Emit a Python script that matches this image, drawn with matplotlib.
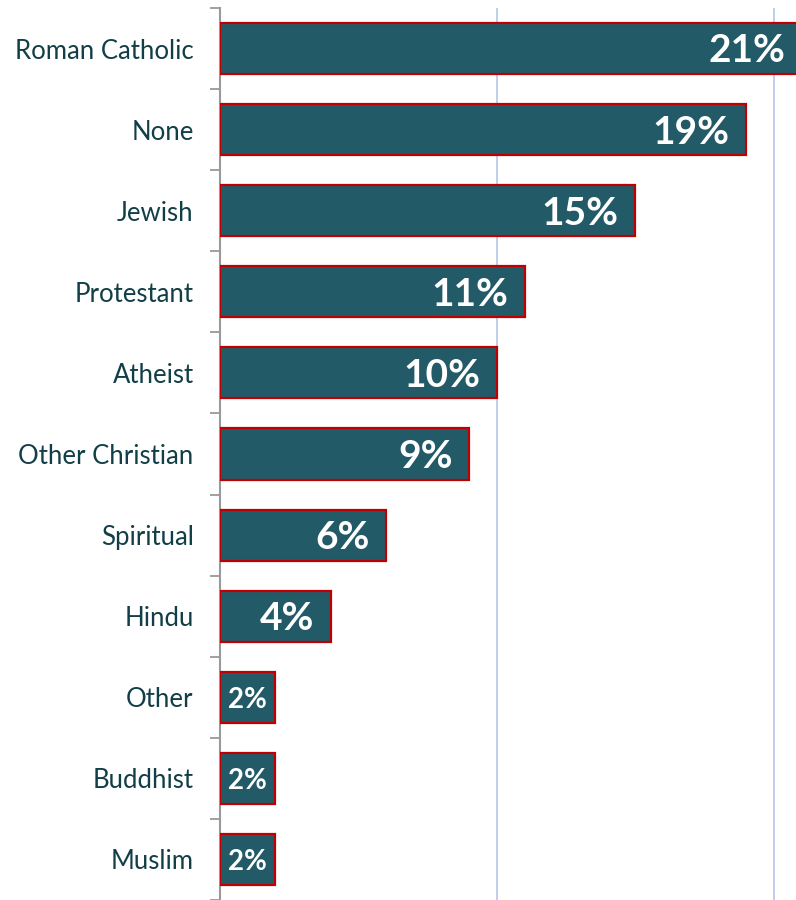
import numpy as np
import matplotlib
matplotlib.use("Agg")
import matplotlib.pyplot as plt

# ------------------------------
# Data
# ------------------------------
religions = ["Roman Catholic", "None", "Jewish", "Protestant", "Atheist",
             "Other Christian", "Spiritual", "Hindu", "Other", "Buddhist", "Muslim"]
shares = [21, 19, 15, 11, 10, 9, 6, 4, 2, 2, 2]
value_labels = ["21%", "19%", "15%", "11%", "10%", "9%", "6%", "4%", "2%", "2%", "2%"]

bar_color = "#235A68"
edge_color = "#C00000"
text_color = "#123F47"

plt.rcParams["font.family"] = ["Lato", "DejaVu Sans"]

fig = plt.figure(figsize=(7.96, 9), dpi=100)
# axis spine at x=220px, runs past the right edge
ax = fig.add_axes([220 / 796, 0.0, 1 - 220 / 796, 892 / 900])

y = np.arange(len(religions))
ax.barh(y, shares, height=0.63, color=bar_color, edgecolor=edge_color,
        linewidth=1.6, zorder=3)

ax.set_xlim(0, 20.8)
ax.set_ylim(len(religions) - 0.5, -0.5)

# gridlines
for gx in [10, 20]:
    ax.axvline(gx, color="#B4C7E7", linewidth=1.2, zorder=1)

# value labels inside bar ends
for i, (v, lab) in enumerate(zip(shares, value_labels)):
    if v <= 2:
        ax.text(v / 2, i + 0.03, lab, ha="center", va="center", color="white",
                fontsize=20, fontweight="bold", zorder=4)
    else:
        ax.text(v - 0.6, i + 0.03, lab, ha="right", va="center", color="white",
                fontsize=28, fontweight="bold", zorder=4)

# category ticks at boundaries, labels centered
ax.set_yticks(np.arange(len(religions) + 1) - 0.5)
ax.set_yticklabels([])
ax.tick_params(axis="y", which="major", length=7, width=1.3, color="#999999")
ax.set_yticks(y, minor=True)
ax.set_yticklabels(religions, minor=True, fontsize=18.5, color=text_color)
ax.tick_params(axis="y", which="minor", length=0, pad=19)

ax.set_xticks([])
for s in ["top", "right", "bottom"]:
    ax.spines[s].set_visible(False)
ax.spines["left"].set_color("#999999")
ax.spines["left"].set_linewidth(1.5)

fig.savefig("out.png", dpi=100)
